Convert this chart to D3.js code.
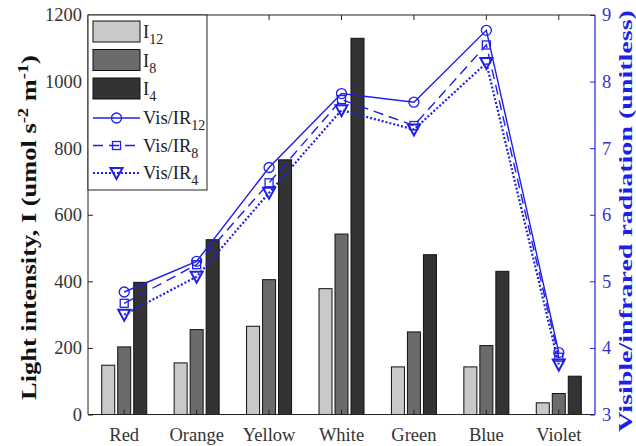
<!DOCTYPE html>
<html><head><meta charset="utf-8">
<script src="https://cdn.jsdelivr.net/npm/d3@7"></script>
<style>body{margin:0;background:#fff}svg{display:block}text{font-family:"Liberation Serif","Times New Roman",serif}</style>
</head><body><svg id="c" width="636" height="446"></svg>
<script>
const categories = ["Red","Orange","Yellow","White","Green","Blue","Violet"];
const I12 = [148,155,265,378,143,143,35];
const I8 = [203,255,405,542,248,207,63];
const I4 = [397,525,765,1130,480,430,115];
const visIR12 = [4.84,5.30,6.71,7.82,7.69,8.77,3.93];
const visIR8 = [4.67,5.25,6.48,7.73,7.34,8.55,3.86];
const visIR4 = [4.50,5.07,6.33,7.57,7.28,8.28,3.75];
const leftTicks = [0,200,400,600,800,1000,1200];
const rightTicks = [3,4,5,6,7,8,9];

const svg = d3.select("#c");
const L=88,R=595,T=15,B=414.5;
const blue="#1f1fe6";
const x = d3.scaleBand().domain(categories).range([L,R]);
const yL = d3.scaleLinear().domain([0,1200]).range([B,T]);
const yR = d3.scaleLinear().domain([3,9]).range([B,T]);
const barW=13, offs=[-16,0,16];
const barSeries=[{name:"12",v:I12,c:"#c9c9c9"},{name:"8",v:I8,c:"#6b6b6b"},{name:"4",v:I4,c:"#333333"}];
barSeries.forEach((s,i)=>{
  svg.append("g").selectAll("rect").data(s.v).join("rect")
   .attr("x",(d,j)=>x(categories[j])+x.bandwidth()/2+offs[i]-barW/2)
   .attr("y",d=>yL(d)).attr("width",barW).attr("height",d=>B-yL(d))
   .attr("fill",s.c).attr("stroke","#111").attr("stroke-width",1);
});
// axes frame
svg.append("line").attr("x1",L).attr("x2",R).attr("y1",T).attr("y2",T).attr("stroke","#222");
svg.append("line").attr("x1",L).attr("x2",R).attr("y1",B).attr("y2",B).attr("stroke","#222");
svg.append("line").attr("x1",L).attr("x2",L).attr("y1",T).attr("y2",B).attr("stroke","#222");
svg.append("line").attr("x1",R).attr("x2",R).attr("y1",T).attr("y2",B).attr("stroke",blue).attr("stroke-width",1.2);
// left axis
const gl = svg.append("g").attr("transform",`translate(${L},0)`).call(d3.axisLeft(yL).tickValues(leftTicks).tickFormat(d3.format("d")).tickSize(-5).tickPadding(6));
gl.select(".domain").remove();
gl.selectAll("text").attr("font-size",18.5).attr("fill","#333").style("font-family","Liberation Serif");
gl.selectAll("line").attr("stroke","#222");
const gr = svg.append("g").attr("transform",`translate(${R},0)`).call(d3.axisRight(yR).tickValues(rightTicks).tickFormat(d3.format("d")).tickSize(-5).tickPadding(7));
gr.select(".domain").remove();
gr.selectAll("text").attr("font-size",18.5).attr("fill","#3535c8").style("font-family","Liberation Serif");
gr.selectAll("line").attr("stroke",blue);
const gb = svg.append("g").attr("transform",`translate(0,${B})`).call(d3.axisBottom(x).tickSize(-5).tickPadding(13));
gb.select(".domain").remove();
gb.selectAll("text").attr("font-size",18.5).attr("fill","#333").style("font-family","Liberation Serif");
gb.selectAll("line").attr("stroke","#222");
const gt = svg.append("g").attr("transform",`translate(0,${T})`).call(d3.axisTop(x).tickSize(-5).tickFormat(""));
gt.select(".domain").remove(); gt.selectAll("line").attr("stroke","#222");
// axis titles (stretched along their length as in the reference)
function fitTitle(t,bx,cy,len){
  const w=t.node().getBBox().width;
  t.attr("transform",`translate(${bx},${cy}) rotate(-90) scale(${len/w},1)`);
}
const lt = svg.append("text").attr("text-anchor","middle")
 .attr("font-size",20).attr("font-weight","bold").attr("fill","#111");
lt.append("tspan").text("Light intensity, I (umol s");
lt.append("tspan").attr("dy",-8).attr("font-size",14).text("-2");
lt.append("tspan").attr("dy",8).text(" m");
lt.append("tspan").attr("dy",-8).attr("font-size",14).text("-1");
lt.append("tspan").attr("dy",8).text(")");
fitTitle(lt,36,227.5,345);
const rt = svg.append("text").attr("text-anchor","middle")
 .attr("font-size",19).attr("font-weight","bold").attr("fill",blue).text("Visible/infrared radiation (unitless)");
fitTitle(rt,632,221,422);
// lines
const lineSeries=[{v:visIR12,dash:null,m:"circle",sub:"12"},{v:visIR8,dash:"10,6",m:"square",sub:"8"},{v:visIR4,dash:"2,2",m:"tri",sub:"4"}];
const lineGen=d3.line().x((d,j)=>x(categories[j])+x.bandwidth()/2).y(d=>yR(d));
function marker(g,type,cx,cy){
  if(type==="circle") g.append("circle").attr("cx",cx).attr("cy",cy).attr("r",5).attr("fill","none").attr("stroke",blue).attr("stroke-width",1.3);
  else if(type==="square") g.append("rect").attr("x",cx-4).attr("y",cy-4).attr("width",8).attr("height",8).attr("fill","none").attr("stroke",blue).attr("stroke-width",1.3);
  else g.append("path").attr("d",`M${cx-6},${cy-5}L${cx+6},${cy-5}L${cx},${cy+6}Z`).attr("fill","none").attr("stroke",blue).attr("stroke-width",2);
}
lineSeries.forEach(s=>{
  svg.append("path").datum(s.v).attr("d",lineGen).attr("fill","none").attr("stroke",blue).attr("stroke-width",s.dash==="2,2"?2.2:1.4).attr("stroke-dasharray",s.dash);
  const g=svg.append("g");
  s.v.forEach((d,j)=>marker(g,s.m,x(categories[j])+x.bandwidth()/2,yR(d)));
});
// legend
const lg=svg.append("g");
lg.append("rect").attr("x",L).attr("y",T).attr("width",119).attr("height",175).attr("fill","#fff").attr("stroke","#222");
barSeries.forEach((s,i)=>{
  const yy=21+i*28.5;
  lg.append("rect").attr("x",93).attr("y",yy).attr("width",47).attr("height",21).attr("fill",s.c).attr("stroke","#111");
  const t=lg.append("text").attr("x",143).attr("y",yy+17).attr("font-size",18.5).attr("fill","#222");
  t.append("tspan").text("I"); t.append("tspan").attr("dy",6).attr("font-size",14).text(s.name);
});
lineSeries.forEach((s,i)=>{
  const yy=118+i*27.5;
  lg.append("line").attr("x1",93).attr("x2",140).attr("y1",yy).attr("y2",yy).attr("stroke",blue).attr("stroke-width",s.dash==="2,2"?2.2:1.4).attr("stroke-dasharray",s.dash);
  marker(lg,s.m,116.5,yy);
  const t=lg.append("text").attr("x",143).attr("y",yy+6).attr("font-size",18.5).attr("fill","#222");
  t.append("tspan").text("Vis/IR"); t.append("tspan").attr("dy",6).attr("font-size",14).text(s.sub);
});
</script></body></html>
